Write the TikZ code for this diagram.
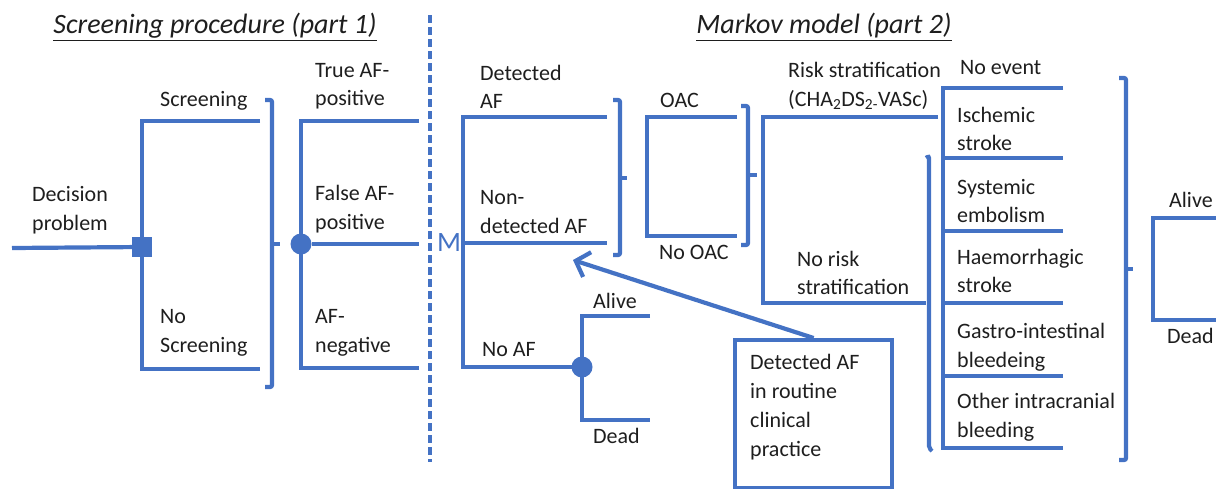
\documentclass[tikz,border=0pt]{standalone}
\usepackage{fontspec}
\setmainfont{Carlito}
\usetikzlibrary{arrows.meta}
\definecolor{bl}{HTML}{4472C4}
\definecolor{tx}{HTML}{1E1E1E}
\begin{document}
\begin{tikzpicture}[x=1pt,y=-1pt,
  br/.style={draw=bl,line width=4.2pt},
  brk/.style={draw=bl,line width=4.2pt,rounded corners=2pt},
  lbl/.style={anchor=west,inner sep=0pt,align=left,font=\fontsize{22}{28.5}\selectfont,text=tx},
  ttl/.style={inner sep=0pt,font=\fontsize{28}{32}\selectfont\itshape,text=tx},
  decnode/.style={fill=bl,minimum size=20pt,inner sep=0pt},
  chnode/.style={circle,fill=bl,minimum size=21pt,inner sep=0pt}]
\useasboundingbox (0,0) rectangle (1216,488);

% titles
\node[ttl] (t1) at (215,27) {\underline{Screening procedure (part 1)}};
\node[ttl] (t2) at (824,27) {\underline{Markov model (part 2)}};

% dashed separator
\coordinate (sepTop) at (430,15);
\coordinate (sepBot) at (430,462);
\draw[draw=bl,line width=3.4pt,dash pattern=on 8pt off 4pt] (sepTop) -- (sepBot);
\node[inner sep=0pt,font=\fontsize{28}{30}\selectfont,text=bl] (mlab) at (449,243) {M};

% ---- part 1 ----
\coordinate (dstart) at (12,248);
\node[decnode] (d0) at (142,247) {};
\coordinate (scrEnd) at (260,121);
\coordinate (noscrEnd) at (260,369);
\draw[br] (dstart) -- (d0);
\draw[br] (scrEnd) -| (d0.center) |- (noscrEnd);

\node[lbl] (ldec) at (32,210) {Decision\\problem};
\node[lbl] (lscr) at (160,101) {Screening};
\node[lbl] (lnoscr) at (160,333) {No\\Screening};

% bracket 1
\coordinate (b1) at (272,244);
\coordinate (b1tip) at (280,244);
\draw[brk] (265,100) -- (272,100) -- (272,387) -- (265,387);
\draw[br] (b1) -- (b1tip);

\node[chnode] (c1) at (301,244) {};
\coordinate (tpEnd) at (419,121);
\coordinate (fpEnd) at (419,244);
\coordinate (negEnd) at (419,368);
\draw[br] (tpEnd) -| (c1.center) |- (negEnd);
\draw[br] (c1) -- (fpEnd);

\node[lbl] (ltp) at (315,86) {True AF-\\positive};
\node[lbl] (lfp) at (315,209) {False AF-\\positive};
\node[lbl] (lneg) at (315,333) {AF-\\negative};

% ---- part 2 ----
\coordinate (m) at (463,243);
\coordinate (dafEnd) at (607,117);
\coordinate (ndafEnd) at (607,243);
\node[chnode] (c2) at (582,367) {};
\draw[br] (dafEnd) -| (m) |- (c2.center);
\draw[br] (m) -- (ndafEnd);
\coordinate (aliveEnd) at (650,316);
\coordinate (deadEnd) at (650,420);
\draw[br] (aliveEnd) -| (c2.center) |- (deadEnd);

\node[lbl] (ldaf) at (480,87) {Detected\\AF};
\node[lbl] (lndaf) at (480,212) {Non-\\detected AF};
\node[lbl] (lnoaf) at (482,350) {No AF};
\node[lbl] (lalive1) at (593,301) {Alive};
\node[lbl] (ldead1) at (593,436) {Dead};

% bracket 2
\coordinate (b2) at (620,178);
\coordinate (b2tip) at (627,178);
\draw[brk] (613,100) -- (620,100) -- (620,255) -- (613,255);
\draw[br] (b2) -- (b2tip);

% OAC
\coordinate (oacRoot) at (647,176);
\coordinate (oacEnd) at (737,117);
\coordinate (nooacEnd) at (737,236);
\draw[br] (oacEnd) -| (oacRoot) |- (nooacEnd);
\node[lbl] (loac) at (660,100) {OAC};
\node[lbl] (lnooac) at (659,252) {No OAC};

% bracket 3
\coordinate (b3) at (748,175);
\coordinate (b3tip) at (757,175);
\draw[brk] (741,106) -- (748,106) -- (748,245) -- (741,245);
\draw[br] (b3) -- (b3tip);

% risk
\coordinate (riskRoot) at (763,210);
\coordinate (riskEnd) at (938,117);
\coordinate (noriskEnd) at (926,303);
\draw[br] (riskEnd) -| (riskRoot) |- (noriskEnd);
\node[lbl] (lrisk) at (788,86) {Risk stratification\\(CHA\textsubscript{2}DS\textsubscript{2-}VASc)};
\node[lbl] (lnorisk) at (797,273) {No risk\\stratification};

% bracket 4
\coordinate (b4) at (929,303);
\draw[brk] (926,158) -- (929,156) -- (929,448) -- (932,451);

% events
\coordinate (evRoot) at (943,268);
\coordinate (e0) at (1063,88);
\coordinate (e1) at (1063,158);
\coordinate (e2) at (1063,231);
\coordinate (e3) at (1063,303);
\coordinate (e4) at (1063,376);
\coordinate (e5) at (1063,448);
\draw[br] (e0) -| (evRoot) |- (e5);
\foreach \e in {e1,e2,e3,e4} \draw[br] (evRoot |- \e) -- (\e);

\node[lbl] (lev0) at (960,68) {No event};
\node[lbl] (lev1) at (957,129) {Ischemic\\stroke};
\node[lbl] (lev2) at (957,201) {Systemic\\embolism};
\node[lbl] (lev3) at (957,271) {Haemorrhagic\\stroke};
\node[lbl] (lev4) at (957,347) {Gastro-intestinal\\bleedeing};
\node[lbl] (lev5) at (957,417) {Other intracranial\\bleeding};

% bracket 5
\coordinate (b5) at (1126,269);
\coordinate (b5tip) at (1133,269);
\draw[brk] (1119,78) -- (1126,78) -- (1126,460) -- (1119,460);
\draw[br] (b5) -- (b5tip);

% final alive/dead
\coordinate (finRoot) at (1153,269);
\coordinate (finAlive) at (1220,218);
\coordinate (finDead) at (1220,320);
\draw[br] (finAlive) -| (finRoot) |- (finDead);
\node[lbl] (lalive2) at (1169,200) {Alive};
\node[lbl] (ldead2) at (1167,336) {Dead};

% routine clinical practice box
\node[draw=bl,line width=4.2pt,anchor=north west,minimum width=157pt,minimum height=148pt,inner sep=0pt] (box) at (733,338) {};
\node[lbl,font=\fontsize{22}{29}\selectfont] (boxtxt) at (750,407) {Detected AF\\in routine\\clinical\\practice};
\coordinate (arrTip) at (573,260);
\draw[br,-{Straight Barb[length=12pt,width=26pt]}] (box.north) -- (arrTip);

\end{tikzpicture}
\end{document}
